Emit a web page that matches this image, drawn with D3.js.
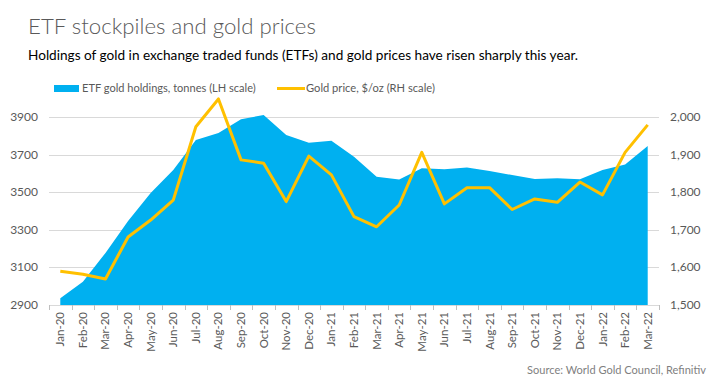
<!DOCTYPE html>
<html>
<head>
<meta charset="utf-8">
<script src="https://cdn.jsdelivr.net/npm/d3@7"></script>
<style>
  body { margin: 0; background: #fff; }
  svg { display: block; font-family: Lato, "Open Sans", sans-serif; }
</style>
</head>
<body>
<div id="chart"></div>
<script>
// data
const months = ["Jan-20","Feb-20","Mar-20","Apr-20","May-20","Jun-20","Jul-20","Aug-20","Sep-20","Oct-20","Nov-20","Dec-20",
                "Jan-21","Feb-21","Mar-21","Apr-21","May-21","Jun-21","Jul-21","Aug-21","Sep-21","Oct-21","Nov-21","Dec-21",
                "Jan-22","Feb-22","Mar-22"];
const etfTonnes = [2936, 3024, 3177, 3347, 3496, 3618, 3778, 3815, 3888, 3911, 3804, 3763,
                   3774, 3689, 3582, 3567, 3627, 3622, 3632, 3613, 3591, 3570, 3574, 3569,
                   3618, 3648, 3746];
const goldPrice = [1590, 1582, 1569, 1681, 1726, 1779, 1974, 2048, 1886, 1877, 1775, 1896,
                   1846, 1735, 1708, 1766, 1906, 1769, 1812, 1812, 1754, 1782, 1773, 1827,
                   1793, 1906, 1979];
const leftTicks = [2900, 3100, 3300, 3500, 3700, 3900];
const rightTicks = [1500, 1600, 1700, 1800, 1900, 2000];

const W = 723, H = 387;
const blue = "#00B0F0", gold = "#FFC000", grey = "#595959";

const svg = d3.select("#chart").append("svg").attr("width", W).attr("height", H);

// shrink/grow a text so it spans the width measured on the reference
function fit(sel, width) {
  const fs = parseFloat(sel.attr("font-size"));
  const w = sel.node().getComputedTextLength();
  sel.attr("font-size", (fs * width / w).toFixed(2));
  return sel;
}

const x = d3.scaleBand().domain(months).range([49, 659]).padding(0);
const yL = d3.scaleLinear().domain([2900, 3900]).range([305, 117]);
const yR = d3.scaleLinear().domain([1500, 2000]).range([305, 117]);
const cx = d => x(d) + x.bandwidth() / 2;

// titles
fit(svg.append("text").attr("x", 28).attr("y", 34).attr("font-size", 24).attr("font-weight", 300)
  .attr("fill", grey).text("ETF stockpiles and gold prices"), 288);
fit(svg.append("text").attr("x", 28).attr("y", 60).attr("font-size", 14).attr("fill", "#000")
  .text("Holdings of gold in exchange traded funds (ETFs) and gold prices have risen sharply this year."), 550);

// legend
svg.append("rect").attr("x", 54).attr("y", 85).attr("width", 25).attr("height", 7).attr("fill", blue);
fit(svg.append("text").attr("x", 82).attr("y", 92).attr("font-size", 12).attr("fill", grey)
  .text("ETF gold holdings, tonnes (LH scale)"), 174);
svg.append("line").attr("x1", 277).attr("x2", 305).attr("y1", 88.5).attr("y2", 88.5)
  .attr("stroke", gold).attr("stroke-width", 3);
fit(svg.append("text").attr("x", 306).attr("y", 92).attr("font-size", 12).attr("fill", grey)
  .text("Gold price, $/oz (RH scale)"), 129);

// gridlines
svg.append("g").selectAll("line").data(leftTicks).join("line")
  .attr("x1", 49).attr("x2", 659)
  .attr("y1", d => Math.round(yL(d)) + 0.5).attr("y2", d => Math.round(yL(d)) + 0.5)
  .attr("stroke", "#D9D9D9").attr("stroke-width", 1);

// left axis labels
svg.append("g").selectAll("text").data(leftTicks).join("text")
  .attr("x", 38).attr("y", d => yL(d) + 4).attr("text-anchor", "end")
  .attr("font-size", 12).attr("fill", grey).text(d => d);

// right axis labels
svg.append("g").selectAll("text").data(rightTicks).join("text")
  .attr("x", 670).attr("y", d => yR(d) + 4)
  .attr("font-size", 12).attr("fill", grey).text(d => d3.format(",")(d));

// area
const area = d3.area().x((d, i) => cx(months[i])).y0(yL(2900)).y1(d => yL(d));
svg.append("path").datum(etfTonnes).attr("d", area).attr("fill", blue);

// line
const line = d3.line().x((d, i) => cx(months[i])).y(d => yR(d));
svg.append("path").datum(goldPrice).attr("d", line).attr("fill", "none")
  .attr("stroke", gold).attr("stroke-width", 3).attr("stroke-linejoin", "round");

// x axis
const xAxis = svg.append("g");
xAxis.append("line").attr("x1", 49).attr("x2", 659).attr("y1", 305.5).attr("y2", 305.5)
  .attr("stroke", "#D9D9D9");
xAxis.selectAll("line.tick").data(months.concat(["end"])).join("line").attr("class", "tick")
  .attr("x1", (d, i) => Math.round(49 + i * x.bandwidth()) + 0.5)
  .attr("x2", (d, i) => Math.round(49 + i * x.bandwidth()) + 0.5)
  .attr("y1", 305).attr("y2", 310).attr("stroke", "#BFBFBF");
xAxis.selectAll("text").data(months).join("text")
  .attr("transform", d => `translate(${cx(d) + 4},312) rotate(-90)`)
  .attr("text-anchor", "end").attr("font-size", 11.5).attr("fill", grey).text(d => d);

// source
fit(svg.append("text").attr("x", 706).attr("y", 374).attr("text-anchor", "end").attr("font-size", 12)
  .attr("fill", "#7F7F7F").text("Source: World Gold Council, Refinitiv"), 179);
</script>
</body>
</html>
